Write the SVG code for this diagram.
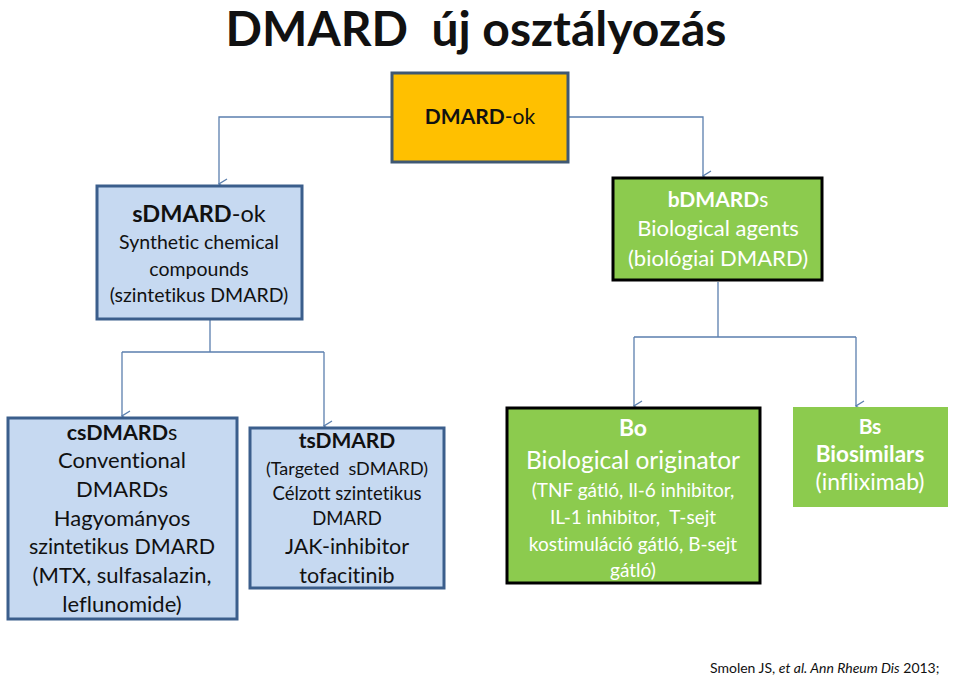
<svg xmlns="http://www.w3.org/2000/svg" width="959" height="676" viewBox="0 0 959 676">
<style>
text{font-family:Lato,"Noto Sans","Liberation Sans",sans-serif;text-anchor:middle;font-variant-ligatures:none;white-space:pre}
.b{font-weight:bold}
.w{fill:#fff}
.k{fill:#111}
.blue{fill:#C6D9F1;stroke:#3B5E8C;stroke-width:3}
.green{fill:#8CCB4E;stroke:#000;stroke-width:3}
.conn{fill:none;stroke:#5B7FAE;stroke-width:1.3}
</style>
<defs>
<marker id="arr" markerWidth="12" markerHeight="10" refX="6" refY="9" orient="auto-start-reverse" markerUnits="userSpaceOnUse" viewBox="0 0 12 10">
<path d="M1,1 L6,9 L11,1" fill="none" stroke="#5B7FAE" stroke-width="1.3"/>
</marker>
</defs>
<rect width="959" height="676" fill="#fff"/>
<text x="476" y="46" class="b k" style="font-size:48px">DMARD  új osztályozás</text>

<g id="connectors">
<path class="conn" d="M392,117 H219 V184" marker-end="url(#arr)"/>
<path class="conn" d="M568,117 H703 V176" marker-end="url(#arr)"/>
<path class="conn" d="M210,320 V352 M122,352 H324"/>
<path class="conn" d="M122,352 V416" marker-end="url(#arr)"/>
<path class="conn" d="M324,352 V426" marker-end="url(#arr)"/>
<path class="conn" d="M718,282 V337 M634,337 H856"/>
<path class="conn" d="M634,337 V406" marker-end="url(#arr)"/>
<path class="conn" d="M856,337 V406" marker-end="url(#arr)"/>
</g>

<g id="dmard-ok">
<rect x="392" y="73" width="176" height="89" fill="#FFC000" stroke="#3F5873" stroke-width="3"/>
<text x="480" y="124" class="k" style="font-size:21px"><tspan class="b">DMARD</tspan>-ok</text>
</g>

<g id="sdmard">
<rect x="97" y="186" width="205" height="133" class="blue"/>
<text x="199" y="222" class="k" style="font-size:23.5px"><tspan class="b">sDMARD</tspan>-ok</text>
<text x="199" y="249" class="k" style="font-size:19.5px">Synthetic chemical</text>
<text x="199" y="276" class="k" style="font-size:19.5px">compounds</text>
<text x="199" y="302" class="k" style="font-size:19.5px">(szintetikus DMARD)</text>
</g>

<g id="bdmard">
<rect x="613" y="178" width="209" height="102" class="green"/>
<text x="718" y="207" class="w" style="font-size:21px"><tspan class="b">bDMARD</tspan>s</text>
<text x="718" y="236" class="w" style="font-size:22px">Biological agents</text>
<text x="718" y="266" class="w" style="font-size:22px">(biológiai DMARD)</text>
</g>

<g id="csdmard">
<rect x="8" y="418" width="229" height="201" class="blue"/>
<text x="122" y="440" class="k" style="font-size:21.5px"><tspan class="b">csDMARD</tspan>s</text>
<text x="122" y="468" class="k" style="font-size:22px">Conventional</text>
<text x="122" y="497" class="k" style="font-size:22px">DMARDs</text>
<text x="122" y="526" class="k" style="font-size:22px">Hagyományos</text>
<text x="122" y="554" class="k" style="font-size:21.5px">szintetikus DMARD</text>
<text x="122" y="583" class="k" style="font-size:22px">(MTX, sulfasalazin,</text>
<text x="122" y="612" class="k" style="font-size:22px">leflunomide)</text>
</g>

<g id="tsdmard">
<rect x="250" y="428" width="194" height="160" class="blue"/>
<text x="347" y="448" class="k b" style="font-size:21px">tsDMARD</text>
<text x="347" y="475" class="k" style="font-size:18px">(Targeted  sDMARD)</text>
<text x="347" y="500" class="k" style="font-size:18.5px">Célzott szintetikus</text>
<text x="347" y="525" class="k" style="font-size:18.5px">DMARD</text>
<text x="347" y="554" class="k" style="font-size:21.5px">JAK-inhibitor</text>
<text x="347" y="583" class="k" style="font-size:21.5px">tofacitinib</text>
</g>

<g id="bo">
<rect x="507" y="408" width="253" height="175" class="green"/>
<text x="633" y="436" class="w b" style="font-size:23px">Bo</text>
<text x="633" y="469" class="w" style="font-size:24.5px">Biological originator</text>
<text x="633" y="497" class="w" style="font-size:19px">(TNF gátló, Il-6 inhibitor,</text>
<text x="633" y="524" class="w" style="font-size:19px">IL-1 inhibitor,  T-sejt</text>
<text x="633" y="551" class="w" style="font-size:19px">kostimuláció gátló, B-sejt</text>
<text x="633" y="577" class="w" style="font-size:19px">gátló)</text>
</g>

<g id="bs">
<rect x="793" y="407" width="155" height="100" fill="#8CCB4E"/>
<text x="870" y="434" class="w b" style="font-size:21px">Bs</text>
<text x="870" y="462" class="w b" style="font-size:22.5px">Biosimilars</text>
<text x="870" y="490" class="w" style="font-size:23px">(infliximab)</text>
</g>

<text x="710" y="673" class="k" style="font-size:14px;text-anchor:start">Smolen JS, <tspan font-style="italic">et al. Ann Rheum Dis</tspan> 2013;</text>
</svg>
